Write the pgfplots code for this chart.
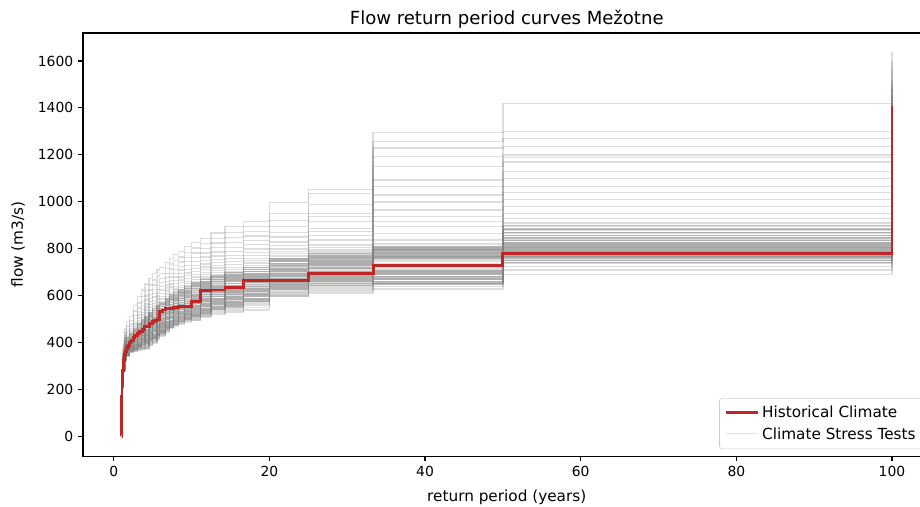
\documentclass[border=0pt]{standalone}
\usepackage{fontspec}
\setmainfont{DejaVu Sans}
\usepackage{pgfplots}
\usepackage{pgfplotstable}
\pgfplotsset{compat=1.18}
\definecolor{histred}{RGB}{192,38,38}
\definecolor{stressgray}{RGB}{128,128,128}

% Climate stress test curves: column 0 = return period (years), columns 1..40 = flow of each test
\pgfplotstableread[header=false]{
1.0526 280 268 258 250 243 237 232 227 223 219 215 212 209 206 203 200 198 196 194 192 190 188 186 184 182 180 178 176 174 172 170 168 166 164 162 160 158 156 154 152
1.1111 335 322 312 303 296 290 285 280 276 272 268 265 262 259 256 254 252 250 248 246 244 242 240 238 236 234 232 230 228 226 224 222 220 218 216 214 212 210 208 206
1.1765 380 366 355 346 339 333 328 323 319 315 312 309 306 303 300 298 296 294 292 290 288 286 284 282 280 278 276 274 272 270 268 266 264 262 260 258 256 254 252 250
1.2500 410 394 383 374 366 360 355 350 346 342 339 336 333 330 327 325 323 321 319 317 315 313 311 309 307 305 303 301 299 297 295 293 291 289 287 285 283 281 279 277
1.4286 460 444 432 422 414 407 401 396 391 387 383 380 377 374 371 369 367 365 363 361 359 357 355 353 351 349 347 345 343 341 339 337 335 333 331 329 327 325 323 320
1.6667 490 472 458 448 439 432 425 420 415 410 406 402 399 396 393 390 388 385 383 381 379 377 375 373 371 369 367 365 363 361 359 357 355 353 351 349 347 345 343 341
2.0000 512 495 481 470 461 453 446 440 435 430 426 422 418 415 412 409 406 403 400 398 396 394 392 390 388 386 384 382 380 378 376 374 372 370 368 366 364 362 360 358
2.5000 558 535 517 503 491 481 472 464 457 450 444 439 434 429 425 421 417 413 410 407 404 401 398 396 394 392 390 388 386 384 382 380 378 376 374 372 370 368 366 364
3.0303 597 570 549 532 518 506 495 485 476 468 461 454 448 442 437 432 427 423 419 415 411 408 405 402 399 397 395 393 391 389 387 385 383 381 379 377 375 373 371 369
3.5714 625 597 576 558 543 530 518 507 497 488 480 472 465 458 452 447 442 437 432 428 423 419 416 412 409 406 403 401 398 396 393 391 388 386 383 381 378 376 373 371
4.0000 650 622 600 582 566 552 539 527 516 506 497 489 481 474 467 461 455 449 444 439 434 430 426 422 418 415 412 409 406 403 400 397 394 391 388 385 382 379 376 373
4.5455 675 647 625 606 590 575 562 550 538 528 518 510 502 494 487 480 474 468 462 456 451 446 442 438 434 431 427 424 421 418 415 412 409 406 403 400 397 394 391 389
5.0000 695 668 646 627 610 595 581 568 556 545 535 526 517 509 502 495 488 482 476 470 465 460 455 451 447 443 439 435 432 429 426 423 420 417 414 411 408 405 402 400
5.5556 710 684 662 644 628 613 599 586 574 563 553 544 535 527 519 512 505 499 493 487 482 477 472 468 464 460 456 452 449 446 443 440 437 434 431 428 425 422 419 416
5.8824 720 695 674 656 640 625 611 598 586 575 565 556 547 539 531 524 517 511 505 499 494 489 484 480 476 472 468 464 461 458 455 452 449 446 443 440 437 434 431 428
6.6667 742 717 696 678 662 647 633 620 608 597 587 578 569 561 553 546 539 533 527 521 515 510 505 500 496 492 488 484 480 476 473 470 467 464 461 458 455 452 449 446
7.1429 760 735 714 696 680 665 651 638 626 615 605 596 587 579 571 564 557 550 544 538 532 527 522 517 512 508 504 500 496 492 489 486 483 480 477 474 471 468 465 462
7.6923 775 750 729 711 695 680 666 653 641 630 620 611 602 594 586 579 572 565 558 552 546 540 535 530 525 520 516 512 508 504 500 496 493 490 486 483 480 477 474 471
8.3333 790 765 744 726 710 695 681 668 656 645 635 626 617 609 601 593 586 579 572 566 560 554 548 543 538 533 528 523 519 515 511 507 503 499 495 492 489 486 483 480
9.0909 810 784 763 745 728 712 698 686 674 662 652 643 634 625 617 609 602 595 588 581 575 569 563 557 552 547 541 536 531 526 522 518 513 509 505 501 497 494 490 487
10.000 828 803 782 763 746 730 716 703 691 680 670 660 651 642 634 626 618 611 604 597 590 584 578 572 566 560 554 548 543 538 533 528 523 518 514 510 506 502 498 494
11.111 845 822 802 783 766 750 736 723 711 700 690 680 671 662 654 646 638 631 624 617 610 604 598 592 586 580 574 568 562 556 550 545 540 535 530 526 522 518 514 510
12.500 867 845 825 805 787 770 755 742 730 719 709 699 690 681 672 664 656 648 641 634 627 620 614 608 602 596 590 584 578 572 566 560 554 548 543 538 533 528 524 520
14.286 895 870 848 826 806 788 772 758 745 733 722 712 702 693 684 676 668 660 652 645 638 631 625 619 613 607 601 595 589 583 577 571 565 559 553 548 543 538 534 530
16.667 917 895 875 855 835 818 800 785 772 760 750 740 730 720 712 704 696 688 680 673 666 659 652 645 638 632 626 620 614 608 602 596 590 584 578 572 565 558 550 540
20.000 997 951 920 895 870 850 830 815 800 790 780 770 760 752 745 738 730 722 715 708 701 694 688 682 676 670 664 658 652 646 640 634 628 622 617 612 607 603 600 597
25.000 1054 1036 990 951 937 916 888 874 856 838 817 805 796 787 779 772 765 758 751 744 738 732 726 720 714 708 702 696 690 684 678 671 664 657 650 644 637 630 621 612
33.333 1295 1258 1229 1193 1150 1094 1065 1030 1000 966 937 916 895 866 838 820 808 800 794 788 782 776 770 764 758 752 745 738 730 722 714 706 698 690 682 672 662 652 640 629
50.000 1420 1300 1270 1235 1200 1190 1170 1130 1100 1065 1040 1010 980 950 930 910 895 880 868 858 848 838 828 820 814 808 803 798 794 790 786 781 776 770 762 752 740 726 710 690
100.00 1640 1600 1560 1520 1500 1480 1460 1440 1420 1400 1380 1350 1300 1250 1200 1150 1100 1080 1050 1020 1000 980 960 940 920 900 890 880 870 860 850 840 830 820 810 800 790 780 760 740
}\graydata

% Further stress test curves lying in the dense core: column 0 = return period, columns 1..20 = flow
\pgfplotstableread[header=false]{
1.0526 250 245 240 236 232 228 224 220 216 212 209 206 203 200 197 194 191 188 185 182
1.1111 310 304 299 294 290 286 282 278 274 270 267 264 261 258 255 252 249 246 243 240
1.1765 345 339 334 329 325 321 317 313 309 305 302 299 296 293 290 287 284 281 278 275
1.2500 370 364 359 354 349 345 341 337 333 329 326 323 320 317 314 311 308 305 302 299
1.4286 400 394 389 384 379 375 371 367 363 359 356 353 350 347 344 341 338 335 332 329
1.6667 420 414 408 403 398 393 389 385 381 377 373 370 367 364 361 358 355 352 349 346
2.0000 440 434 428 423 418 413 408 404 400 396 392 388 385 382 379 376 373 370 367 364
2.5000 460 454 448 442 436 430 425 420 415 410 405 401 397 393 389 385 381 377 374 371
3.0303 480 473 466 460 454 448 442 436 431 426 421 416 411 406 402 398 394 390 386 382
3.5714 498 491 484 477 470 464 458 452 446 440 434 429 424 419 414 409 405 401 397 393
4.0000 512 505 498 491 484 477 470 464 458 452 446 440 434 429 424 419 414 409 404 400
4.5455 530 522 514 507 500 493 486 479 472 466 460 454 448 442 436 431 426 421 416 411
5.0000 545 537 529 521 513 506 499 492 485 478 471 465 459 453 447 441 435 430 425 420
5.5556 560 552 544 536 528 521 514 507 500 493 486 479 473 467 461 455 449 443 438 433
5.8824 570 562 554 546 538 530 523 516 509 502 495 488 481 475 469 463 457 451 446 441
6.6667 590 582 574 566 558 550 542 534 527 520 513 506 499 492 486 480 474 468 463 458
7.1429 603 595 587 579 571 563 555 547 539 531 524 517 510 503 496 490 484 478 473 468
7.6923 615 607 599 591 583 575 567 559 551 543 536 529 522 515 508 502 496 490 484 479
8.3333 628 620 612 604 596 588 580 572 564 556 548 541 534 527 520 513 507 501 495 490
9.0909 640 632 624 616 608 600 592 584 576 568 560 553 546 539 532 525 518 511 505 500
10.000 655 647 639 631 623 615 607 599 591 583 575 567 560 553 546 539 532 525 518 512
11.111 670 662 654 646 638 630 622 614 606 598 590 582 575 568 561 554 547 540 533 527
12.500 685 677 669 661 653 645 637 629 621 613 605 597 590 583 576 569 562 555 548 541
14.286 700 692 684 676 668 660 652 644 636 628 620 612 605 598 591 584 577 570 563 556
16.667 720 712 704 696 688 680 672 664 656 648 640 632 625 618 611 604 597 590 583 576
20.000 760 752 745 738 731 724 717 710 703 696 689 682 675 668 661 654 647 640 633 626
25.000 780 772 765 758 752 746 740 734 728 722 716 702 695 688 681 674 667 660 652 645
33.333 810 805 800 795 790 785 780 775 770 765 760 705 698 690 683 676 669 662 655 650
50.000 900 885 870 858 846 835 825 816 808 801 795 790 785 780 775 770 765 758 750 742
100.00 1480 1450 1420 1380 1340 1300 1260 1220 1180 1140 1100 1060 1030 1000 970 940 920 900 880 860
}\coredata

% Historical climate curve
\pgfplotstableread{
T flow
1.0000 0
1.0101 60
1.0204 100
1.0309 145
1.0417 170
1.0526 190
1.0638 205
1.0753 218
1.0870 230
1.1111 252
1.1364 268
1.1628 282
1.2048 300
1.2500 312
1.2987 328
1.3514 338
1.4286 350
1.5385 364
1.6667 375
1.7544 384
1.8519 390
2.0000 400
2.2222 410
2.5000 422
2.7027 432
3.0303 441
3.3333 448
3.7037 458
4.0000 470
4.5455 482
5.0000 490
5.2632 495
5.5556 500
5.8824 533
6.2500 540
6.6667 545
7.1429 547
7.6923 550
8.3333 554
9.0909 556
10.000 576
11.111 623
12.500 625
14.286 637
16.667 664
20.000 667
25.000 694
33.333 728
50.000 780
100.00 1410
}\reddata

\begin{document}
\begin{tikzpicture}
\begin{axis}[
  scale only axis,
  width=610.2pt, height=304.6pt,
  xmin=-3.95, xmax=104.95, ymin=-82, ymax=1719,
  xtick={0,20,40,60,80,100},
  ytick={0,200,400,600,800,1000,1200,1400,1600},
  tick pos=left, tick align=outside,
  major tick length=3.5pt,
  axis line style={line width=0.8pt},
  every tick/.style={black, line width=0.8pt},
  ticklabel style={font=\fontsize{10}{12}\selectfont},
  /pgf/number format/assume math mode=true,
  /pgf/number format/1000 sep={},
  scaled y ticks=false,
  title={Flow return period curves Mežotne},
  title style={font=\fontsize{13}{15}\selectfont, yshift=-6pt},
  xlabel={return period (years)},
  ylabel={flow (m3/s)},
  label style={font=\fontsize{11}{13}\selectfont},
  xlabel shift=3pt,
  ylabel shift=2.5pt,
  legend style={at={(1,0)}, anchor=south east, xshift=-5pt, yshift=5pt,
    draw=black!20, rounded corners=2pt, fill=white,
    font=\fontsize{11}{13}\selectfont, row sep=1.5pt, inner sep=3.5pt,
    cells={anchor=west}},
  legend image code/.code={\draw[#1] (0pt,0.4pt) -- (23pt,0.4pt);},
]
\coordinate (SW) at (rel axis cs:0,0);
\coordinate (NE) at (rel axis cs:1,1);
\addlegendimage{histred, line width=2.2pt}
\addlegendentry{Historical Climate}
\addlegendimage{stressgray, opacity=0.22, line width=1pt}
\addlegendentry{Climate Stress Tests}
\pgfplotsinvokeforeach{1,...,40}{
  \addplot[stressgray, opacity=0.27, line width=1pt, const plot mark left, forget plot]
    table[x index=0, y index=#1] {\graydata};
}
\pgfplotsinvokeforeach{1,...,20}{
  \addplot[stressgray, opacity=0.5, line width=1pt, const plot mark left, forget plot]
    table[x index=0, y index=#1] {\coredata};
}
\addplot[histred, line width=2pt, const plot mark left, forget plot]
  table[x=T, y=flow] {\reddata};
\end{axis}
\pgfresetboundingbox
\path ([shift={(-59.76pt,-36pt)}]SW) rectangle ([shift={(-7.56pt,23.76pt)}]NE);
\end{tikzpicture}
\end{document}
